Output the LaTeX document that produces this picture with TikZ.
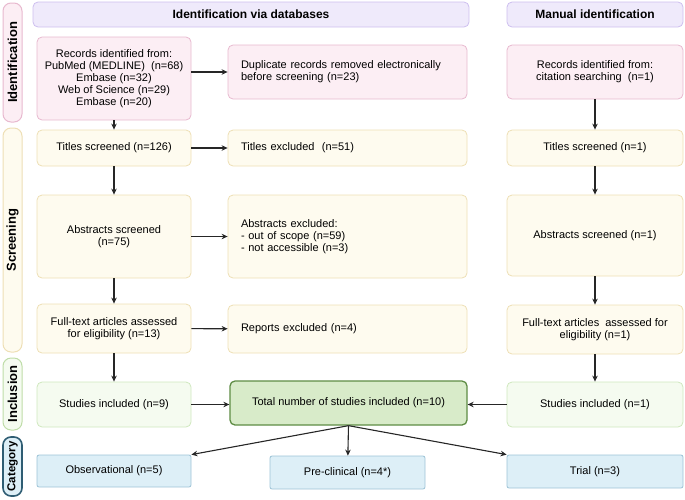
\documentclass[tikz,border=0pt]{standalone}
\usepackage{fontspec}
\setmainfont{Liberation Sans}
\usetikzlibrary{arrows.meta}

\definecolor{headfill}{HTML}{EFEAFB}
\definecolor{headline}{HTML}{CDBFEF}
\definecolor{idfill}{HTML}{FCEEF4}
\definecolor{idline}{HTML}{E8B9CF}
\definecolor{scfill}{HTML}{FEFBEF}
\definecolor{scline}{HTML}{EEDFB5}
\definecolor{incfill}{HTML}{F5FBF0}
\definecolor{incline}{HTML}{CFE8BE}
\definecolor{incside}{HTML}{BFDDA8}
\definecolor{totfill}{HTML}{D8EBC9}
\definecolor{totline}{HTML}{5E8C44}
\definecolor{catfill}{HTML}{DDEFF7}
\definecolor{catline}{HTML}{9DC3D6}
\definecolor{catdark}{HTML}{2F5D73}
\definecolor{arrcol}{HTML}{262626}

\begin{document}
\begin{tikzpicture} [x = 1pt, y = -1pt,
    box/.style = {draw, rounded corners=5pt, line width=0.8pt, inner sep=0pt, align=center,
                  font=\fontsize{11}{12}\selectfont},
    lbox/.style = {box, align=left, inner xsep=13pt},
    head/.style = {box, fill=headfill, draw=headline, minimum height=25pt,
                   font=\fontsize{12}{14}\selectfont\bfseries},
    side/.style = {draw, rounded corners=8pt, line width=1pt, rotate=90, inner sep=0pt,
                   minimum height=19pt, font=\fontsize{13}{15}\selectfont\bfseries},
    idbox/.style = {fill=idfill, draw=idline},
    scbox/.style = {fill=scfill, draw=scline},
    incbox/.style = {fill=incfill, draw=incline},
    catbox/.style = {fill=catfill, draw=catline},
    arr/.style = {draw=arrcol, line width=1.1pt, -{Stealth[length=6pt, width=5.5pt]}}]
      \useasboundingbox (0,0) rectangle (685,499);

      % 見出し
      \node [head, minimum width=436pt] (hdb) at (251,14.5) {Identification via databases};
      \node [head, minimum width=176pt] (hman) at (595,14.5) {Manual identification};

      % 左のラベル
      \node [side, idbox, minimum width=119pt] (sid) at (12.5,62.5) {Identification};
      \node [side, scbox, minimum width=224pt] (ssc) at (12.5,240) {Screening};
      \node [side, incbox, draw=incside, minimum width=72pt] (sinc) at (12.5,394) {Inclusion};
      \node [side, catbox, draw=catdark, line width=1.6pt, minimum width=59pt,
             font=\fontsize{11.5}{13}\selectfont\bfseries] (scat) at (12.5,466.5) {Category};

      % データベース
      \node [box, idbox, minimum width=154pt, minimum height=83pt] (rec) at (114,78.5)
            {Records identified from:\\PubMed (MEDLINE)~~(n=68)\\Embase (n=32)\\Web of Science (n=29)\\Embase (n=20)};
      \node [box, scbox, minimum width=154pt, minimum height=36pt] (tit) at (114,148) {Titles screened (n=126)};
      \node [box, scbox, minimum width=154pt, minimum height=83pt] (abs) at (114,236.5) {Abstracts screened\\(n=75)};
      \node [box, scbox, minimum width=154pt, minimum height=49pt] (ful) at (114,328.5)
            {Full-text articles assessed\\for eligibility (n=13)};
      \node [box, incbox, minimum width=154pt, minimum height=45pt] (inc) at (114,404.5) {Studies included (n=9)};

      % 除外
      \node [lbox, idbox, text width=213pt, minimum height=54pt] (dup) at (347.5,72)
            {Duplicate records removed electronically\\before screening (n=23)};
      \node [lbox, scbox, text width=213pt, minimum height=36pt] (tex) at (347.5,148) {Titles excluded~~(n=51)};
      \node [lbox, scbox, text width=213pt, minimum height=83pt] (abx) at (347.5,236.5)
            {Abstracts excluded:\\- out of scope (n=59)\\- not accessible (n=3)};
      \node [lbox, scbox, text width=213pt, minimum height=48pt] (rep) at (347.5,329) {Reports excluded (n=4)};
      \node [box, fill=totfill, draw=totline, line width=1.3pt, minimum width=237pt, minimum height=44pt] (tot)
            at (348.5,403) {Total number of studies included (n=10)};

      % 手動
      \node [box, idbox, minimum width=176pt, minimum height=54pt] (rec3) at (595,72)
            {Records identified from:\\citation searching~~(n=1)};
      \node [box, scbox, minimum width=176pt, minimum height=36pt] (tit3) at (595,148) {Titles screened (n=1)};
      \node [box, scbox, minimum width=176pt, minimum height=81pt] (abs3) at (595,235.5) {Abstracts screened (n=1)};
      \node [box, scbox, minimum width=176pt, minimum height=49pt] (ful3) at (595,329.5)
            {Full-text articles~~assessed for\\eligibility (n=1)};
      \node [box, incbox, minimum width=176pt, minimum height=45pt] (inc3) at (595,404.5) {Studies included (n=1)};

      % 分類
      \node [box, catbox, rounded corners=2pt, minimum width=154pt, minimum height=32pt] (obs) at (114,471) {Observational (n=5)};
      \node [box, catbox, rounded corners=2pt, minimum width=155pt, minimum height=33pt] (pre) at (347.5,472.5) {Pre-clinical (n=4*)};
      \node [box, catbox, rounded corners=2pt, minimum width=176pt, minimum height=33pt] (tri) at (595,471.5) {Trial (n=3)};

      % 矢印
      \draw [arr] (rec.east |- dup.west) -- (dup.west);
      \draw [arr] (rec) -- (tit);
      \draw [arr] (tit) -- (tex);
      \draw [arr] (tit) -- (abs);
      \draw [arr] (abs) -- (abx);
      \draw [arr] (abs) -- (ful);
      \draw [arr] (ful) -- (rep);
      \draw [arr] (ful) -- (inc);
      \draw [arr] (inc.east) -- (tot.west |- inc.east);
      \draw [arr] (rec3) -- (tit3);
      \draw [arr] (tit3) -- (abs3);
      \draw [arr] (abs3) -- (ful3);
      \draw [arr] (ful3) -- (inc3);
      \draw [arr] (inc3.west) -- (tot.east |- inc3.west);
      \draw [arr] (tot.south) -- (obs.north east);
      \draw [arr] (tot.south) -- (pre);
      \draw [arr] (tot.south) -- (tri.north west);
    \end{tikzpicture}
\end{document}
